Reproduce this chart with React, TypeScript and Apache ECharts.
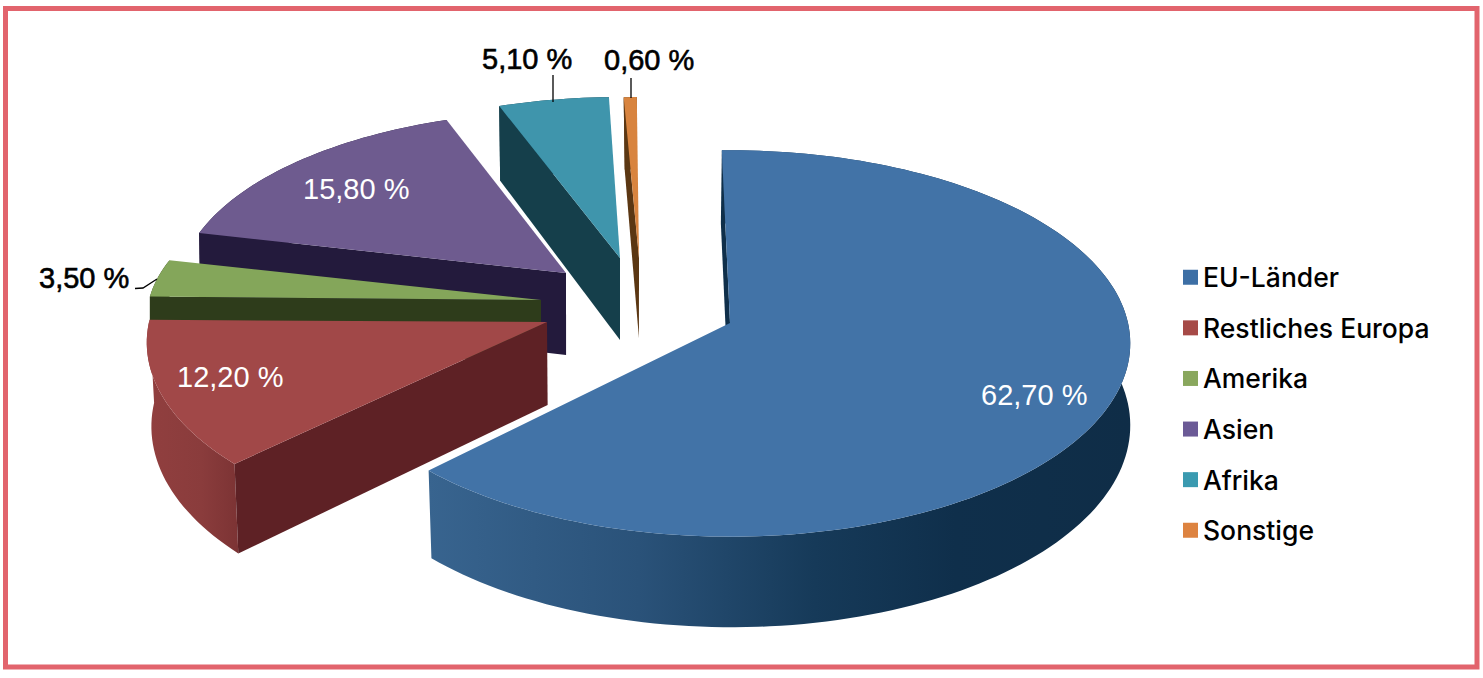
import React, { useEffect, useRef } from "react";
import * as echarts from "echarts";

// ---- data ----
const categories = ["EU-Länder", "Restliches Europa", "Amerika", "Asien", "Afrika", "Sonstige"];
const shares = [62.7, 12.2, 3.5, 15.8, 5.1, 0.6];

// ---- colours ----
const topColors = ["#4273a7", "#a14848", "#84a65a", "#6e5b8f", "#3f95ac", "#d8843f"];
const legendColors = ["#3d6fa5", "#a64a47", "#89a75d", "#6b5a96", "#3a9ab0", "#dd8340"];
const faceColors = ["#0f2f4a", "#5e2125", "#2e3c1b", "#231a3c", "#153f4b", "#5b3713"];
const rimStops = [
  [[0, "#38648f"], [0.3, "#2a5279"], [0.55, "#163a59"], [0.75, "#0f2f4b"], [1, "#0f2d47"]],
  [[0, "#913f3f"], [0.6, "#8a3c3c"], [1, "#7c3334"]],
  [[0, "#2e3c1b"], [1, "#2e3c1b"]],
  [[0, "#231a3c"], [1, "#231a3c"]],
  [[0, "#153f4b"], [1, "#153f4b"]],
  [[0, "#5b3713"], [1, "#5b3713"]],
];

// ---- pie layout (one entry per slice) ----
const apexX = [730, 547, 541, 566, 620, 639];
const apexY = [323, 322, 300, 273, 258, 258];
const radiusX = [398, 398, 392, 386, 385, 385];
const radiusY = [191, 192, 172, 179, 178, 178];
const rotation = [-1.3, 1, 1.5, 1, 0.7, 0];
const bottomScale = [0.996, 0.99, 1, 0.997, 0.992, 0.93];
const bottomCentre = [1131, 610, 540, 590, 620, 638];
const faceShift = [-2.6, 0, 0, 0, 0, 0];
const depth = [81, 83, 60, 82, 82, 80];
const drawOrder = [6, 5, 4, 3, 2, 1]; // z of each slice
const perspective = 0.106;

// ---- labels ----
const labelX = [981, 177, 39, 303, 482, 604];
const labelCentreY = [395, 377, 278, 189, 59, 60];
const labelColors = ["#ffffff", "#ffffff", "#000000", "#ffffff", "#000000", "#000000"];
const FONT = '"Liberation Sans", Arial, sans-serif';

const formatShare = (v: number) => v.toFixed(2).replace(".", ",") + " %";

const startAngles: number[] = [];
shares.reduce((acc, v, i) => {
  startAngles[i] = acc;
  return acc + (v / 100) * 360;
}, 0);

function rimPoint(i: number, deg: number): [number, number] {
  const a = ((deg + rotation[i]) * Math.PI) / 180;
  const X = Math.sin(a);
  const Y = Math.cos(a);
  const w = 1 + perspective * Y;
  return [apexX[i] + (radiusX[i] * X) / w, apexY[i] - (radiusY[i] * Y) / w];
}

function lower(i: number, p: [number, number], deg: number | null, extra = 0): [number, number] {
  const w = deg === null ? 1 : 1 + perspective * Math.cos(((deg + rotation[i]) * Math.PI) / 180);
  return [
    bottomCentre[i] + (p[0] - bottomCentre[i]) * bottomScale[i] + extra,
    p[1] + depth[i] / w,
  ];
}

function renderSlice(i: number) {
  return (_params: any, api: any) => {
    const sweep = (api.value(0) / 100) * 360;
    const start = startAngles[i];
    const steps = Math.max(6, Math.ceil(sweep / 1.5));
    const topArc: [number, number][] = [];
    const bottomArc: [number, number][] = [];
    for (let s = 0; s <= steps; s++) {
      const deg = start + (sweep * s) / steps;
      const p = rimPoint(i, deg);
      topArc.push(p);
      bottomArc.push(lower(i, p, deg));
    }
    const apex: [number, number] = [apexX[i], apexY[i]];
    const firstRim = topArc[0];
    const children: any[] = [
      {
        type: "polygon",
        shape: { points: [...topArc, ...bottomArc.slice().reverse()] },
        style: {
          fill: new echarts.graphic.LinearGradient(
            0, 0, 1, 0,
            rimStops[i].map(([offset, color]) => ({ offset: offset as number, color: color as string }))
          ),
        },
      },
      {
        type: "polygon",
        shape: {
          points: [
            apex,
            firstRim,
            lower(i, firstRim, start, faceShift[i]),
            lower(i, apex, null, faceShift[i]),
          ],
        },
        style: { fill: faceColors[i] },
      },
      {
        type: "polygon",
        shape: { points: [apex, ...topArc] },
        style: { fill: topColors[i] },
      },
    ];
    return { type: "group", children };
  };
}

export default function App() {
  const ref = useRef<HTMLDivElement>(null);
  useEffect(() => {
    document.body.style.margin = "0";
    const chart = echarts.init(ref.current!, undefined, { renderer: "svg" });
    chart.setOption({
      animation: false,
      backgroundColor: "#ffffff",
      legend: {
        orient: "vertical",
        left: 1183,
        top: 263.75,
        padding: 0,
        icon: "rect",
        itemWidth: 15,
        itemHeight: 15,
        itemGap: 23.6,
        selectedMode: false,
        data: categories,
        textStyle: {
          fontFamily: "Inter, " + FONT,
          fontSize: 26.5,
          fontWeight: 500,
          color: "#000000",
        },
      },
      series: categories.map((name, i) => ({
        type: "custom",
        name,
        coordinateSystem: "none",
        z: drawOrder[i],
        silent: true,
        clip: false,
        itemStyle: { color: legendColors[i] },
        data: [[shares[i]]],
        renderItem: renderSlice(i),
      })),
      graphic: [
        {
          type: "rect",
          z: 0,
          silent: true,
          shape: { x: 5.5, y: 8.5, width: 1471.5, height: 658.5 },
          style: { fill: "none", stroke: "#e2646d", lineWidth: 5 },
        },
        {
          type: "polyline",
          z: 20,
          shape: { points: [[135, 288.5], [143, 288], [157, 279]] },
          style: { fill: "none", stroke: "#000000", lineWidth: 1.3 },
        },
        {
          type: "line",
          z: 20,
          shape: { x1: 553, y1: 75, x2: 553, y2: 102 },
          style: { stroke: "#000000", lineWidth: 1.3 },
        },
        {
          type: "line",
          z: 20,
          shape: { x1: 631, y1: 78, x2: 631, y2: 98 },
          style: { stroke: "#000000", lineWidth: 1.3 },
        },
        ...shares.map((v, i) => ({
          type: "text",
          z: 30,
          x: labelX[i],
          y: labelCentreY[i],
          style: {
            text: formatShare(v),
            fill: labelColors[i],
            font: `29px ${FONT}`,
            align: "left",
            verticalAlign: "middle",
            stroke: labelColors[i] === "#000000" ? "#000000" : undefined,
            lineWidth: labelColors[i] === "#000000" ? 0.6 : 0,
          },
        })),
      ],
    });
    return () => chart.dispose();
  }, []);
  return <div ref={ref} style={{ position: "fixed", left: 0, top: 0, width: 1483, height: 678 }} />;
}
